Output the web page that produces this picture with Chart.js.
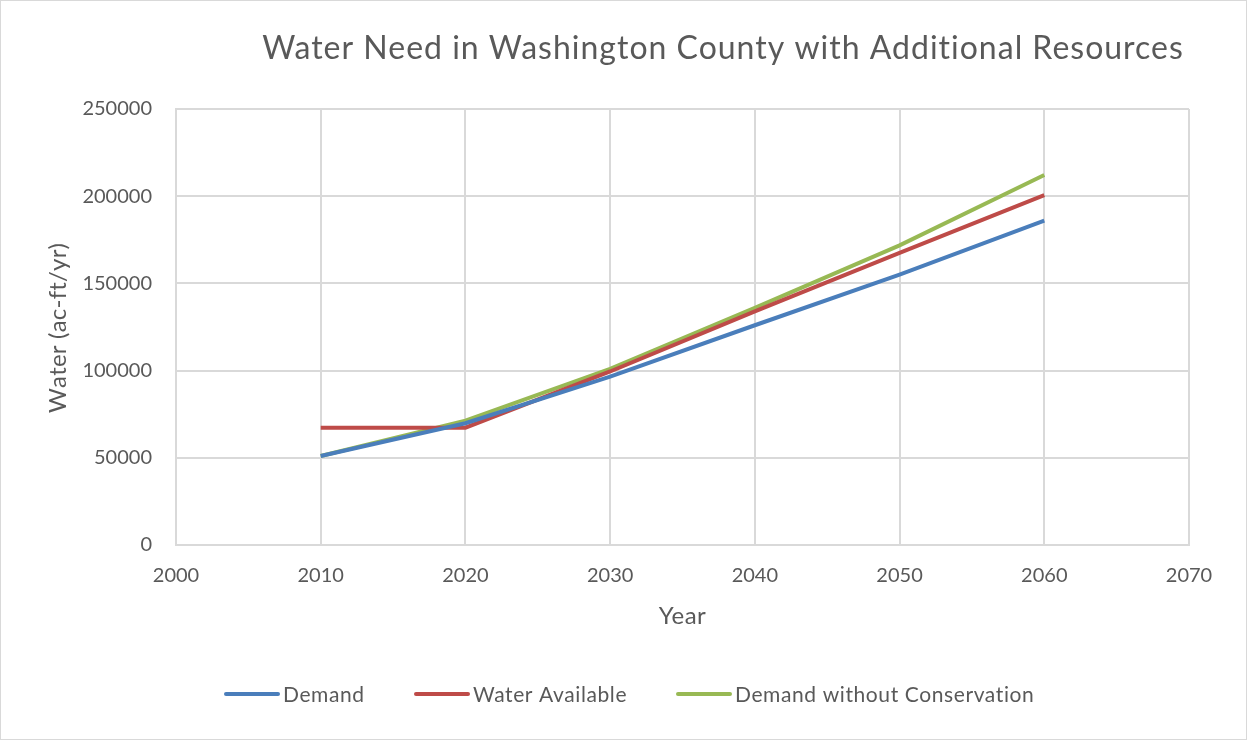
<!DOCTYPE html>
<html>
<head>
<meta charset="utf-8">
<script src="https://cdn.jsdelivr.net/npm/chart.js@4"></script>
<style>
  html, body { margin: 0; padding: 0; background: #fff; }
  #wrap { width: 1247px; height: 740px; position: relative; }
</style>
</head>
<body>
<div id="wrap"><canvas id="chart" width="1247" height="740"></canvas></div>
<script>
// data
const YEARS = [2010, 2020, 2030, 2040, 2050, 2060];
const demand = [51000, 69800, 96500, 126000, 155000, 186000];
const waterAvailable = [67300, 67300, 99500, 134000, 167500, 200600];
const demandNoConservation = [51000, 71300, 101000, 136000, 171800, 212200];
const Y_TICKS = [0, 50000, 100000, 150000, 200000, 250000];

const FONT = "Lato, 'Open Sans', sans-serif";
const GREY = "#595959";

// helper: pair years with values
function pts(vals) {
  return YEARS.map((y, i) => ({ x: y, y: vals[i] }));
}

// text with a bit of extra tracking
function spaced(ctx, text, x, y, px) {
  ctx.letterSpacing = px + "px";
  ctx.fillText(text, x, y);
  ctx.letterSpacing = "0px";
}

// centred text stretched to a given length, one char at a time
function tracked(ctx, text, len) {
  const chars = [...text];
  const widths = chars.map(c => ctx.measureText(c).width);
  const base = widths.reduce((a, b) => a + b, 0);
  const gap = (len - base) / (chars.length - 1);
  let x = -len / 2;
  ctx.textAlign = "left";
  chars.forEach((c, i) => {
    ctx.fillText(c, x, 0);
    x += widths[i] + gap;
  });
}

// draws title, axis titles, legend and outer border
const decor = {
  id: "decor",
  afterDraw(chart) {
    const ctx = chart.ctx;
    const area = chart.chartArea;
    ctx.save();
    ctx.fillStyle = GREY;
    ctx.textBaseline = "middle";

    // title
    ctx.font = `32px ${FONT}`;
    ctx.textAlign = "center";
    spaced(ctx, "Water Need in Washington County with Additional Resources", 723, 49, 1);

    // x title
    ctx.font = `24px ${FONT}`;
    spaced(ctx, "Year", (area.left + area.right) / 2, 616, 0.5);

    // y title
    ctx.save();
    ctx.translate(58, 328);
    ctx.rotate(-Math.PI / 2);
    tracked(ctx, "Water (ac-ft/yr)", 170);
    ctx.restore();

    // legend
    ctx.font = `21px ${FONT}`;
    ctx.textAlign = "left";
    const legendX = [226, 416, 678];
    chart.data.datasets.forEach((ds, i) => {
      const x = legendX[i];
      ctx.strokeStyle = ds.borderColor;
      ctx.lineWidth = 4;
      ctx.lineCap = "round";
      ctx.beginPath();
      ctx.moveTo(x, 694);
      ctx.lineTo(x + 52, 694);
      ctx.stroke();
      spaced(ctx, ds.label, x + 57, 695, 0.6);
    });

    // outer border
    ctx.strokeStyle = "#d9d9d9";
    ctx.lineWidth = 1;
    ctx.strokeRect(0.5, 0.5, chart.width - 1, chart.height - 1);
    ctx.restore();
  }
};

new Chart(document.getElementById("chart"), {
  type: "line",
  data: {
    datasets: [
      { label: "Demand", data: pts(demand), borderColor: "#4a7ebb" },
      { label: "Water Available", data: pts(waterAvailable), borderColor: "#be4b48" },
      { label: "Demand without Conservation", data: pts(demandNoConservation), borderColor: "#98b954" }
    ].map(d => Object.assign(d, { borderWidth: 4, pointRadius: 0, tension: 0, fill: false }))
  },
  options: {
    responsive: false,
    animation: false,
    layout: { padding: { top: 109, right: 58, left: 0, bottom: 0 } },
    plugins: { legend: { display: false }, tooltip: { enabled: false } },
    scales: {
      x: {
        type: "linear",
        min: 2000, max: 2070,
        ticks: { stepSize: 10, color: GREY, font: { family: FONT, size: 20 }, padding: 19, callback: v => String(v) },
        grid: { color: "#d9d9d9", lineWidth: 2, drawTicks: false },
        border: { color: "#d9d9d9", width: 2 },
        afterFit(s) { s.height = 740 - 545; }
      },
      y: {
        min: 0, max: 250000,
        afterBuildTicks(s) { s.ticks = Y_TICKS.map(v => ({ value: v })); },
        ticks: { color: GREY, font: { family: FONT, size: 20 }, padding: 24, callback: v => String(v) },
        grid: { color: "#d9d9d9", lineWidth: 2, drawTicks: false },
        border: { color: "#d9d9d9", width: 2 },
        afterFit(s) { s.width = 176; }
      }
    }
  },
  plugins: [decor]
});
</script>
</body>
</html>
